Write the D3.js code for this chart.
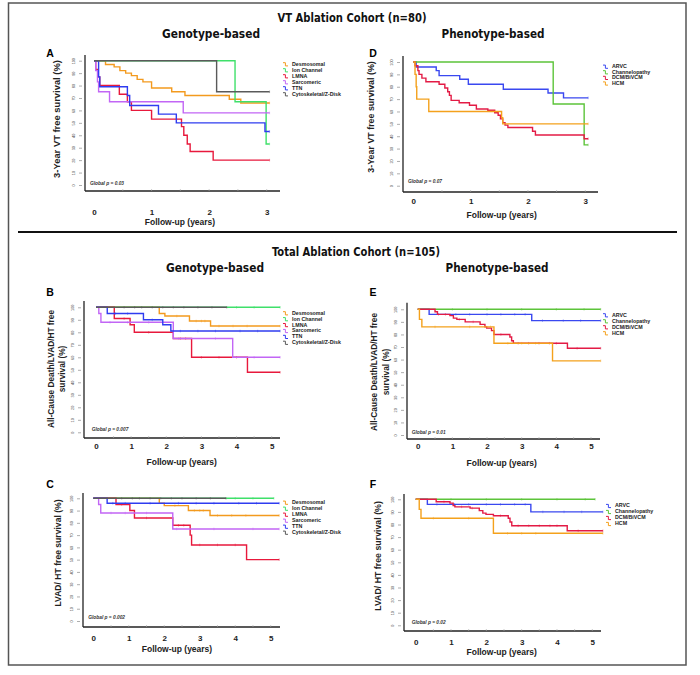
<!DOCTYPE html>
<html>
<head>
<meta charset="utf-8">
<script src="https://cdn.jsdelivr.net/npm/d3@7"></script>
<style>
  body { margin: 0; background: #fff; }
  svg text { font-family: "Liberation Sans", Arial, sans-serif; }
  .head { font-family: "DejaVu Sans Condensed", "Liberation Sans", sans-serif !important; }
</style>
</head>
<body>
<div id="figure"></div>
<script>
/*******************************/
/*        Chart values         */
/*******************************/
const genoGroups = ["Desmosomal", "Ion Channel", "LMNA", "Sarcomeric", "TTN", "Cytoskeletal/Z-Disk"];
const genoColors = ["#f39a1e", "#3fe06a", "#e8193c", "#c266f5", "#2f3cf0", "#5a5a5a"];
const phenoGroups = ["ARVC", "Channelopathy", "DCM/BiVCM", "HCM"];
const phenoColors = ["#3a48f0", "#5cc43a", "#e31b45", "#f4a11c"];

const yTickValues = [0, 10, 20, 30, 40, 50, 60, 70, 80, 90, 100];
const xTicks3 = [0, 1, 2, 3];
const xTicks5 = [0, 1, 2, 3, 4, 5];
const pValues = ["0.03", "0.07", "0.007", "0.01", "0.002", "0.02"];

// [time (years), survival (%)] at each step, last point = end of follow-up
// Panel A: VT ablation, genotype
const curvesA = [
  [[0,100],[0.2,97],[0.35,95],[0.45,92],[0.55,90],[0.65,88],[0.75,85],[0.85,83],[1.0,78],[1.35,75],[1.58,72],[2.35,69],[2.55,66],[3.05,66]],
  [[0,100],[2.45,67],[2.99,33],[3.05,33]],
  [[0,100],[0.03,93],[0.07,87],[0.1,80],[0.44,73],[0.58,67],[0.65,60],[1.0,53],[1.52,47],[1.56,40],[1.62,33],[1.67,27],[2.07,20],[3.05,20]],
  [[0,100],[0.03,92],[0.06,83],[0.08,75],[0.27,67],[1.55,58],[3.05,58]],
  [[0,100],[0.08,87],[0.1,79],[0.58,72],[0.62,64],[1.12,57],[1.43,50],[2.97,43],[3.05,43]],
  [[0,100],[2.13,75],[3.05,75]]
];
// Panel D: VT ablation, phenotype
const curvesD = [
  [[0,100],[0.05,96],[0.4,93],[0.45,89],[0.81,86],[0.96,82],[1.57,78],[2.35,75],[2.62,71],[3.05,71]],
  [[0,100],[2.44,66],[2.98,33],[3.05,33]],
  [[0,100],[0.03,97],[0.08,93],[0.1,90],[0.15,87],[0.22,84],[0.45,82],[0.55,79],[0.6,76],[0.63,73],[0.66,69],[0.8,67],[0.98,65],[1.1,62],[1.3,61],[1.42,59],[1.48,57],[1.52,54],[1.56,51],[1.6,49],[1.65,47],[2.08,44],[2.13,41],[2.98,38],[3.05,38]],
  [[0,100],[0.03,90],[0.05,80],[0.06,70],[0.27,60],[1.54,55],[1.56,50],[3.05,50]]
];
// Panel B: total cohort, all-cause death/LVAD/HT, genotype
const curvesB = [
  [[0,100],[1.8,95],[1.96,93],[2.66,89],[3.26,85],[5.24,85]],
  [[0,100],[5.24,100]],
  [[0,100],[0.52,91],[0.97,86],[1.09,80],[2.2,75],[2.72,60],[4.31,48],[5.24,48]],
  [[0,100],[0.08,95],[0.14,88],[2.2,75],[3.89,60],[5.24,60]],
  [[0,100],[0.32,95],[1.35,90],[1.9,86],[2.13,81],[5.24,81]],
  [[0,100],[3.72,100]]
];
// Panel E: total cohort, all-cause death/LVAD/HT, phenotype
const curvesE = [
  [[0,100],[0.33,96],[3.29,91],[5.28,91]],
  [[0,100],[5.28,100]],
  [[0,100],[0.5,98],[0.57,96],[0.93,95],[1.03,93],[1.13,92],[1.37,90],[1.8,88],[1.94,86],[1.99,85],[2.13,83],[2.2,80],[2.66,78],[2.71,75],[2.76,73],[4.32,69],[5.28,69]],
  [[0,100],[0.05,92],[0.12,86],[2.2,73],[3.89,59],[5.28,59]]
];
// Panel C: total cohort, LVAD/HT, genotype
const curvesC = [
  [[0,100],[1.86,96],[2.0,94],[2.68,90],[3.29,86],[5.24,86]],
  [[0,100],[5.09,100]],
  [[0,100],[0.64,95],[1.03,90],[1.16,84],[2.24,78],[2.73,70],[2.77,62],[4.32,50],[5.24,50]],
  [[0,100],[0.15,95],[0.21,88],[2.24,75],[5.24,75]],
  [[0,100],[0.39,96],[5.24,96]],
  [[0,100],[3.74,100]]
];
// Panel F: total cohort, LVAD/HT, phenotype
const curvesF = [
  [[0,100],[0.33,96],[3.26,90],[5.3,90]],
  [[0,100],[5.08,100]],
  [[0,100],[0.58,98],[0.97,97],[1.06,95],[1.11,94],[1.54,93],[1.8,91],[1.9,89],[1.99,88],[2.2,87],[2.62,85],[2.67,82],[2.72,79],[4.29,75],[5.3,75]],
  [[0,100],[0.1,92],[0.15,85],[2.2,73],[5.3,73]]
];

// censoring times per series
const censorB = [[2.3,2.85,3.0,3.1,3.5,3.9,4.3],[4.0,4.5],[0.8,1.5,2.4,2.55,3.0,3.5,4.0],[0.4,0.9,1.5,2.35,3.4,4.5],[0.55,0.9,1.6,2.4,2.9,3.4,4.1,4.6],[0.8,1.1,1.3,1.6,1.9,2.2,2.5,2.9,3.3]];
const censorE = [[0.6,1.1,1.5,2.0,2.4,2.8,3.1,3.6,4.2,4.7],[1.0,2.0,3.0,4.0,4.8],[0.8,1.2,1.6,2.4,2.9,3.2,3.5,3.8,4.0,4.6],[0.5,1.5,2.1,2.6,3.0,3.4]];
const censorC = [[2.3,2.85,3.0,3.1,3.5,3.9,4.3],[4.0,4.5],[0.8,1.5,2.4,2.55,3.0,3.5,4.0],[0.5,0.9,1.5,2.35,3.4,4.5],[0.55,0.9,1.6,2.4,2.9,3.4,4.1,4.6],[0.8,1.1,1.3,1.6,1.9,2.2,2.5,2.9,3.3]];
const censorF = [[0.6,1.1,1.5,2.0,2.4,2.8,3.1,3.6,4.2,4.7],[1.0,2.0,3.0,4.0,4.8],[0.8,1.3,1.6,2.4,2.9,3.2,3.5,3.8,4.0,4.6],[0.5,1.5,2.6,3.0,3.4]];

/*******************************/
/*       Layout constants      */
/*******************************/
const width = 700;
const height = 675;

const panels = [
  {letter: "A", lx: 50, ly: 54, axX: 85, axTop: 55, axY: 191, axEnd: 280, xr: [94, 266.7], yr: [185, 60.7],
   xTicks: xTicks3, tickY: 213, xlabX: 180, xlabY: 223, ylab: ["3-Year VT free survival (%)"], ylabX: [58], ylabY: 119, ylabSize: 9.4,
   pX: 90, pY: 184, legX: 283, legY: 64.3, legDy: 6, groups: genoGroups, colors: genoColors, curves: curvesA, censor: null, p: pValues[0]},
  {letter: "D", lx: 373, ly: 54, axX: 403, axTop: 56, axY: 192, axEnd: 598, xr: [413.3, 585.3], yr: [185.7, 62],
   xTicks: xTicks3, tickY: 202, xlabX: 501.7, xlabY: 216, ylab: ["3-Year VT free survival (%)"], ylabX: [371.7], ylabY: 117, ylabSize: 8.9,
   pX: 408, pY: 181.7, legX: 603, legY: 66.7, legDy: 5.6, groups: phenoGroups, colors: phenoColors, curves: curvesD, censor: null, p: pValues[1]},
  {letter: "B", lx: 50, ly: 293, axX: 84, axTop: 301, axY: 438, axEnd: 280, xr: [96, 271.7], yr: [432.3, 307.3],
   xTicks: xTicks5, tickY: 446.7, xlabX: 181.7, xlabY: 462.7, ylab: ["All-Cause Death/LVAD/HT free", "survival (%)"], ylabX: [51.7, 63.3], ylabY: 369, ylabSize: 8.3,
   pX: 91.7, pY: 430, legX: 283, legY: 313.3, legDy: 5.9, groups: genoGroups, colors: genoColors, curves: curvesB, censor: censorB, p: pValues[2]},
  {letter: "E", lx: 373, ly: 293, axX: 407, axTop: 302.7, axY: 439, axEnd: 600, xr: [417.7, 591], yr: [435, 309.3],
   xTicks: xTicks5, tickY: 446.7, xlabX: 501.7, xlabY: 463.3, ylab: ["All-Cause Death/LVAD/HT free", "survival (%)"], ylabX: [375, 386.7], ylabY: 372, ylabSize: 8.3,
   pX: 411.7, pY: 432.7, legX: 603, legY: 315.3, legDy: 6, groups: phenoGroups, colors: phenoColors, curves: curvesE, censor: censorE, p: pValues[3]},
  {letter: "C", lx: 50, ly: 485, axX: 83, axTop: 493, axY: 627, axEnd: 280, xr: [93.3, 270.7], yr: [621, 498.3],
   xTicks: xTicks5, tickY: 639, xlabX: 177, xlabY: 650, ylab: ["LVAD/ HT free survival (%)"], ylabX: [58.3], ylabY: 553, ylabSize: 8.6,
   pX: 88.3, pY: 618.3, legX: 283, legY: 502.7, legDy: 6, groups: genoGroups, colors: genoColors, curves: curvesC, censor: censorC, p: pValues[4]},
  {letter: "F", lx: 373, ly: 485, axX: 404, axTop: 494, axY: 631, axEnd: 601, xr: [415.7, 592.3], yr: [625.3, 499.3],
   xTicks: xTicks5, tickY: 642.7, xlabX: 501.7, xlabY: 652.7, ylab: ["LVAD/ HT free survival (%)"], ylabX: [378.3], ylabY: 556, ylabSize: 8.8,
   pX: 411.7, pY: 623.3, legX: 606, legY: 506, legDy: 6, groups: phenoGroups, colors: phenoColors, curves: curvesF, censor: censorF, p: pValues[5]}
];

/*******************************/
/*    Append the containers    */
/*******************************/
const svg = d3.select("#figure")
  .append("svg")
    .attr("width", width)
    .attr("height", height)
    .attr("viewBox", `0 0 ${width} ${height}`);

// Outer frame and divider
svg.append("rect")
    .attr("x", 8.5).attr("y", 3)
    .attr("width", 677.5).attr("height", 662)
    .attr("fill", "none")
    .attr("stroke", "#555")
    .attr("stroke-width", 1.5);
svg.append("line")
    .attr("x1", 18).attr("x2", 677)
    .attr("y1", 232).attr("y2", 232)
    .attr("stroke", "#111")
    .attr("stroke-width", 2);

// Headings (condensed, fitted to the reference widths)
const heading = (txt, x, y, len) => svg.append("text")
    .attr("class", "head")
    .attr("x", x).attr("y", y)
    .attr("text-anchor", "middle")
    .attr("dominant-baseline", "middle")
    .attr("font-size", 12.5)
    .attr("font-weight", 700)
    .attr("textLength", len)
    .attr("lengthAdjust", "spacingAndGlyphs")
    .attr("fill", "#111")
    .text(txt);

heading("VT Ablation Cohort (n=80)", 352, 18, 149);
heading("Genotype-based", 211, 34, 98);
heading("Phenotype-based", 493, 34, 103);
heading("Total Ablation Cohort (n=105)", 356, 252, 168);
heading("Genotype-based", 215, 268, 98);
heading("Phenotype-based", 497, 268, 103);

/*******************************/
/*        Draw a panel         */
/*******************************/
const drawPanel = (p) => {
  const g = svg.append("g").attr("class", `panel-${p.letter}`);
  const xMax = p.xTicks[p.xTicks.length - 1];

  const xScale = d3.scaleLinear().domain([0, xMax]).range(p.xr);
  const yScale = d3.scaleLinear().domain([0, 100]).range(p.yr);

  // panel letter
  g.append("text")
      .attr("x", p.lx).attr("y", p.ly)
      .attr("text-anchor", "middle")
      .attr("dominant-baseline", "middle")
      .attr("font-size", 10.5)
      .attr("font-weight", 700)
      .text(p.letter);

  // axis lines
  g.append("line")
      .attr("x1", p.axX).attr("x2", p.axX)
      .attr("y1", p.axTop).attr("y2", p.axY)
      .attr("stroke", "#222").attr("stroke-width", 1.3);
  g.append("line")
      .attr("x1", p.axX).attr("x2", p.axEnd)
      .attr("y1", p.axY).attr("y2", p.axY)
      .attr("stroke", "#222").attr("stroke-width", 1.3);

  // minor ticks on the x axis (every half year)
  const minor = d3.range(0.5, xMax + 0.01, 0.5);
  g.selectAll(".minor")
    .data(minor)
    .join("line")
      .attr("x1", d => xScale(d)).attr("x2", d => xScale(d))
      .attr("y1", p.axY - 2).attr("y2", p.axY)
      .attr("stroke", "#aaa")
      .attr("stroke-width", 0.6);

  // y axis (tiny, rotated labels)
  const leftAxis = d3.axisLeft(yScale)
    .tickValues(yTickValues)
    .tickSize(3)
    .tickPadding(3);
  const yAxisG = g.append("g")
      .attr("transform", `translate(${p.axX - 3}, 0)`)
      .call(leftAxis);
  yAxisG.select(".domain").remove();
  yAxisG.selectAll(".tick line").attr("stroke", "#777").attr("stroke-width", 0.6);
  yAxisG.selectAll(".tick text")
      .attr("font-size", 3.8)
      .attr("fill", "#444")
      .attr("font-family", "Liberation Sans, Arial, sans-serif")
      .attr("text-anchor", "middle")
      .attr("dy", null)
      .attr("dominant-baseline", "middle")
      .attr("x", null)
      .attr("transform", "translate(-8,0) rotate(-90)");

  // x axis
  const bottomAxis = d3.axisBottom(xScale)
    .tickValues(p.xTicks)
    .tickSize(0)
    .tickPadding(0)
    .tickFormat(d3.format("d"));
  const xAxisG = g.append("g")
      .attr("transform", `translate(0, ${p.tickY})`)
      .call(bottomAxis);
  xAxisG.select(".domain").remove();
  xAxisG.selectAll(".tick text")
      .attr("y", 0)
      .attr("dy", null)
      .attr("dominant-baseline", "middle")
      .attr("font-size", 8)
      .attr("font-weight", 700)
      .attr("fill", "#222")
      .attr("font-family", "Liberation Sans, Arial, sans-serif");

  // axis titles
  g.append("text")
      .attr("x", p.xlabX).attr("y", p.xlabY)
      .attr("text-anchor", "middle")
      .attr("dominant-baseline", "middle")
      .attr("font-size", 8.5)
      .attr("font-weight", 700)
      .attr("fill", "#222")
      .text("Follow-up (years)");
  p.ylab.forEach((line, i) => {
    g.append("text")
        .attr("transform", `translate(${p.ylabX[i]}, ${p.ylabY}) rotate(-90)`)
        .attr("text-anchor", "middle")
        .attr("dominant-baseline", "middle")
        .attr("font-size", p.ylabSize)
        .attr("font-weight", 700)
        .attr("fill", "#222")
        .text(line);
  });

  // KM curves
  const stepLine = d3.line()
    .x(d => xScale(d[0]))
    .y(d => yScale(d[1]))
    .curve(d3.curveStepAfter);

  const survAt = (curve, t) => {
    let s = curve[0][1];
    curve.forEach(d => { if (d[0] <= t) s = d[1]; });
    return s;
  };

  p.curves.forEach((curve, i) => {
    g.append("path")
        .attr("d", stepLine(curve))
        .attr("fill", "none")
        .attr("stroke", p.colors[i])
        .attr("stroke-width", 1.4)
        .attr("stroke-linejoin", "miter");

    // censor ticks
    const times = p.censor ? p.censor[i] : [];
    const last = curve[curve.length - 1];
    times.concat([last[0]]).forEach(t => {
      const yy = yScale(survAt(curve, t));
      g.append("line")
          .attr("x1", xScale(t)).attr("x2", xScale(t))
          .attr("y1", yy - 1.3).attr("y2", yy + 1.3)
          .attr("stroke", p.colors[i])
          .attr("stroke-opacity", 0.7)
          .attr("stroke-width", 0.6);
    });
  });

  // legend
  p.groups.forEach((name, i) => {
    const ly = p.legY + i * p.legDy;
    g.append("path")
        .attr("d", `M${p.legX},${ly - 1.6} h2.4 v3.2 h2.6`)
        .attr("fill", "none")
        .attr("stroke", p.colors[i])
        .attr("stroke-width", 1);
    g.append("text")
        .attr("x", p.legX + 9).attr("y", ly)
        .attr("dominant-baseline", "middle")
        .attr("font-size", 5.3)
        .attr("font-weight", 700)
        .attr("fill", "#222")
        .text(name);
  });

  // global p
  const pText = g.append("text")
      .attr("x", p.pX).attr("y", p.pY)
      .attr("dominant-baseline", "middle")
      .attr("font-size", 4.8)
      .attr("font-weight", 700)
      .attr("font-style", "italic")
      .attr("fill", "#333");
  pText.append("tspan").text("Global ");
  pText.append("tspan").text("p");
  pText.append("tspan").text(` = ${p.p}`);
};

panels.forEach(drawPanel);
</script>
</body>
</html>
